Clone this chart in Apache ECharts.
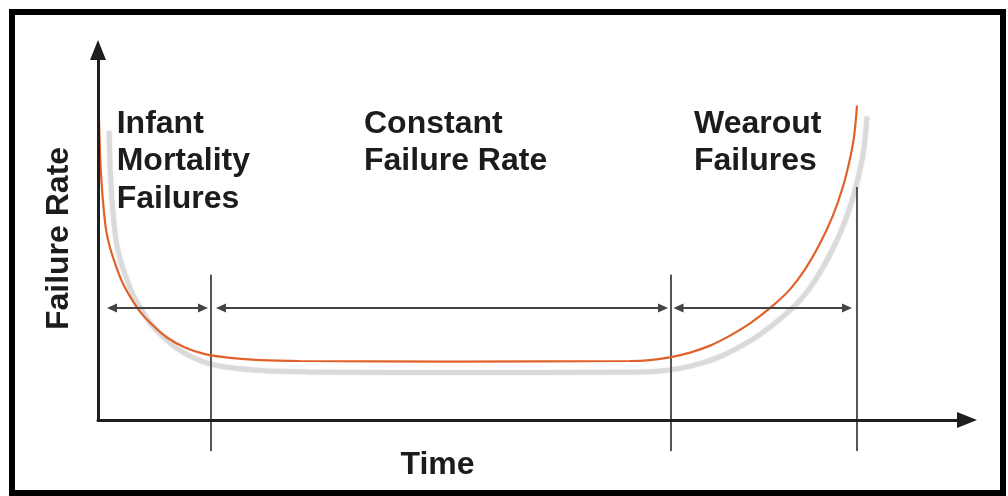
<!DOCTYPE html>
<html>
<head>
<meta charset="utf-8">
<script src="https://cdn.jsdelivr.net/npm/echarts@6/dist/echarts.min.js"></script>
<style>
html,body{margin:0;padding:0;background:#ffffff;}
#c{width:1008px;height:496px;}
</style>
</head>
<body>
<div id="c"></div>
<script>
// Bathtub curve: time (0-100) vs failure rate (0-100)
var timeVals = [0.115, 0.23, 0.345, 0.575, 0.92, 1.38, 1.96, 2.76, 3.68, 4.83, 6.21, 7.94, 10.01, 12.31, 15.19, 18.64, 23.25, 40.51, 61.22, 63.52, 65.94, 68.13, 70.43, 72.73, 75.03, 77.56, 79.63, 81.36, 83.08, 84.58, 85.73, 86.54, 87.0, 87.34];
var rateVals = [81.2, 72.6, 66.6, 59.1, 51.5, 46.6, 42.3, 37.4, 33.4, 29.3, 25.8, 22.3, 19.6, 17.8, 16.8, 16.2, 15.95, 15.8, 15.95, 16.2, 17.0, 18.2, 20.1, 22.8, 26.1, 30.7, 35.3, 40.7, 47.7, 55.3, 63.1, 70.7, 76.6, 85.0];

// Phase boundaries (time) and the extents of the divider lines (rate)
var dividerTimes = [13.0, 65.94, 87.34];
var dividerTops = [39.3, 39.3, 63.0];
var dividerBottom = -8.4;

// Phase span arrows (time start, time end) at one rate level
var phaseStarts = [1.61, 14.15, 66.8];
var phaseEnds = [12.08, 65.02, 86.19];
var arrowRate = 30.3;

// Texts
var phaseLabels = ['Infant\nMortality\nFailures', 'Constant\nFailure Rate', 'Wearout\nFailures'];
var xName = 'Time';
var yName = 'Failure Rate';

var curve = timeVals.map(function (t, i) { return [t, rateVals[i]]; });

var FONT = 'bold 32px "Liberation Sans", Arial, sans-serif';
var TXT = '#1c1c1c';

var dividerSeries = dividerTimes.map(function (t, i) {
  return {
    type: 'line', xAxisIndex: 0, yAxisIndex: 0, clip: false, silent: true,
    symbol: 'none', z: 3,
    lineStyle: { color: '#555', width: 2 },
    data: [[t, dividerBottom], [t, dividerTops[i]]]
  };
});

var arrowLines = phaseStarts.map(function (s, i) {
  return [{ coord: [s, arrowRate] }, { coord: [phaseEnds[i], arrowRate] }];
});

var labelX = [116.7, 364, 694];

var option = {
  animation: false,
  backgroundColor: '#ffffff',
  grid: [
    { left: 98, top: 50, width: 869, height: 370 },
    { left: 108, top: 61, width: 869, height: 370 }
  ],
  xAxis: [
    {
      type: 'value', gridIndex: 0, min: 0, max: 100, z: 6,
      axisLine: { show: true, onZero: false, symbol: ['none', 'triangle'], symbolSize: [16, 20],
        lineStyle: { color: '#1e1e1e', width: 3 } },
      axisTick: { show: false }, axisLabel: { show: false }, splitLine: { show: false }
    },
    { type: 'value', gridIndex: 1, min: 0, max: 100, show: false }
  ],
  yAxis: [
    {
      type: 'value', gridIndex: 0, min: 0, max: 100, z: 6,
      axisLine: { show: true, onZero: false, symbol: ['none', 'triangle'], symbolSize: [16, 20],
        lineStyle: { color: '#1e1e1e', width: 3 } },
      axisTick: { show: false }, axisLabel: { show: false }, splitLine: { show: false }
    },
    { type: 'value', gridIndex: 1, min: 0, max: 100, show: false }
  ],
  series: [
    {
      name: 'shadow', type: 'line', xAxisIndex: 1, yAxisIndex: 1, z: 1, silent: true,
      symbol: 'none', smooth: 0.3, clip: false,
      lineStyle: { color: '#dadada', width: 5, shadowColor: 'rgba(0,0,0,0.08)', shadowBlur: 3 },
      data: curve
    }
  ].concat(dividerSeries).concat([
    {
      name: 'arrows', type: 'line', xAxisIndex: 0, yAxisIndex: 0, z: 3, silent: true,
      symbol: 'none', data: [],
      markLine: {
        silent: true, symbol: ['triangle', 'triangle'], symbolSize: [9, 10],
        label: { show: false },
        lineStyle: { color: '#444', width: 2, type: 'solid' },
        data: arrowLines
      }
    },
    {
      name: 'Failure rate', type: 'line', xAxisIndex: 0, yAxisIndex: 0, z: 4, silent: true,
      symbol: 'none', smooth: 0.3, clip: false,
      lineStyle: { color: '#e0622a', width: 2.2 },
      data: curve
    }
  ]),
  graphic: [
    { type: 'rect', silent: true, z: 10, shape: { x: 12, y: 12, width: 991, height: 481 },
      style: { fill: null, stroke: '#000', lineWidth: 6 } },
    { type: 'text', silent: true, z: 10, rotation: Math.PI / 2, x: 59, y: 238.5,
      style: { text: yName, font: FONT, fill: TXT, textAlign: 'center', textVerticalAlign: 'middle' } },
    { type: 'text', silent: true, z: 10, x: 437.5, y: 465.5,
      style: { text: xName, font: FONT, fill: TXT, textAlign: 'center', textVerticalAlign: 'middle' } }
  ].concat(phaseLabels.map(function (s, i) {
    return { type: 'text', silent: true, z: 10, x: labelX[i], y: 105,
      style: { text: s, font: FONT, fill: TXT, lineHeight: 37.5, textAlign: 'left', textVerticalAlign: 'top' } };
  }))
};

var chart = echarts.init(document.getElementById('c'), null, { renderer: 'canvas' });
chart.setOption(option);
</script>
</body>
</html>
